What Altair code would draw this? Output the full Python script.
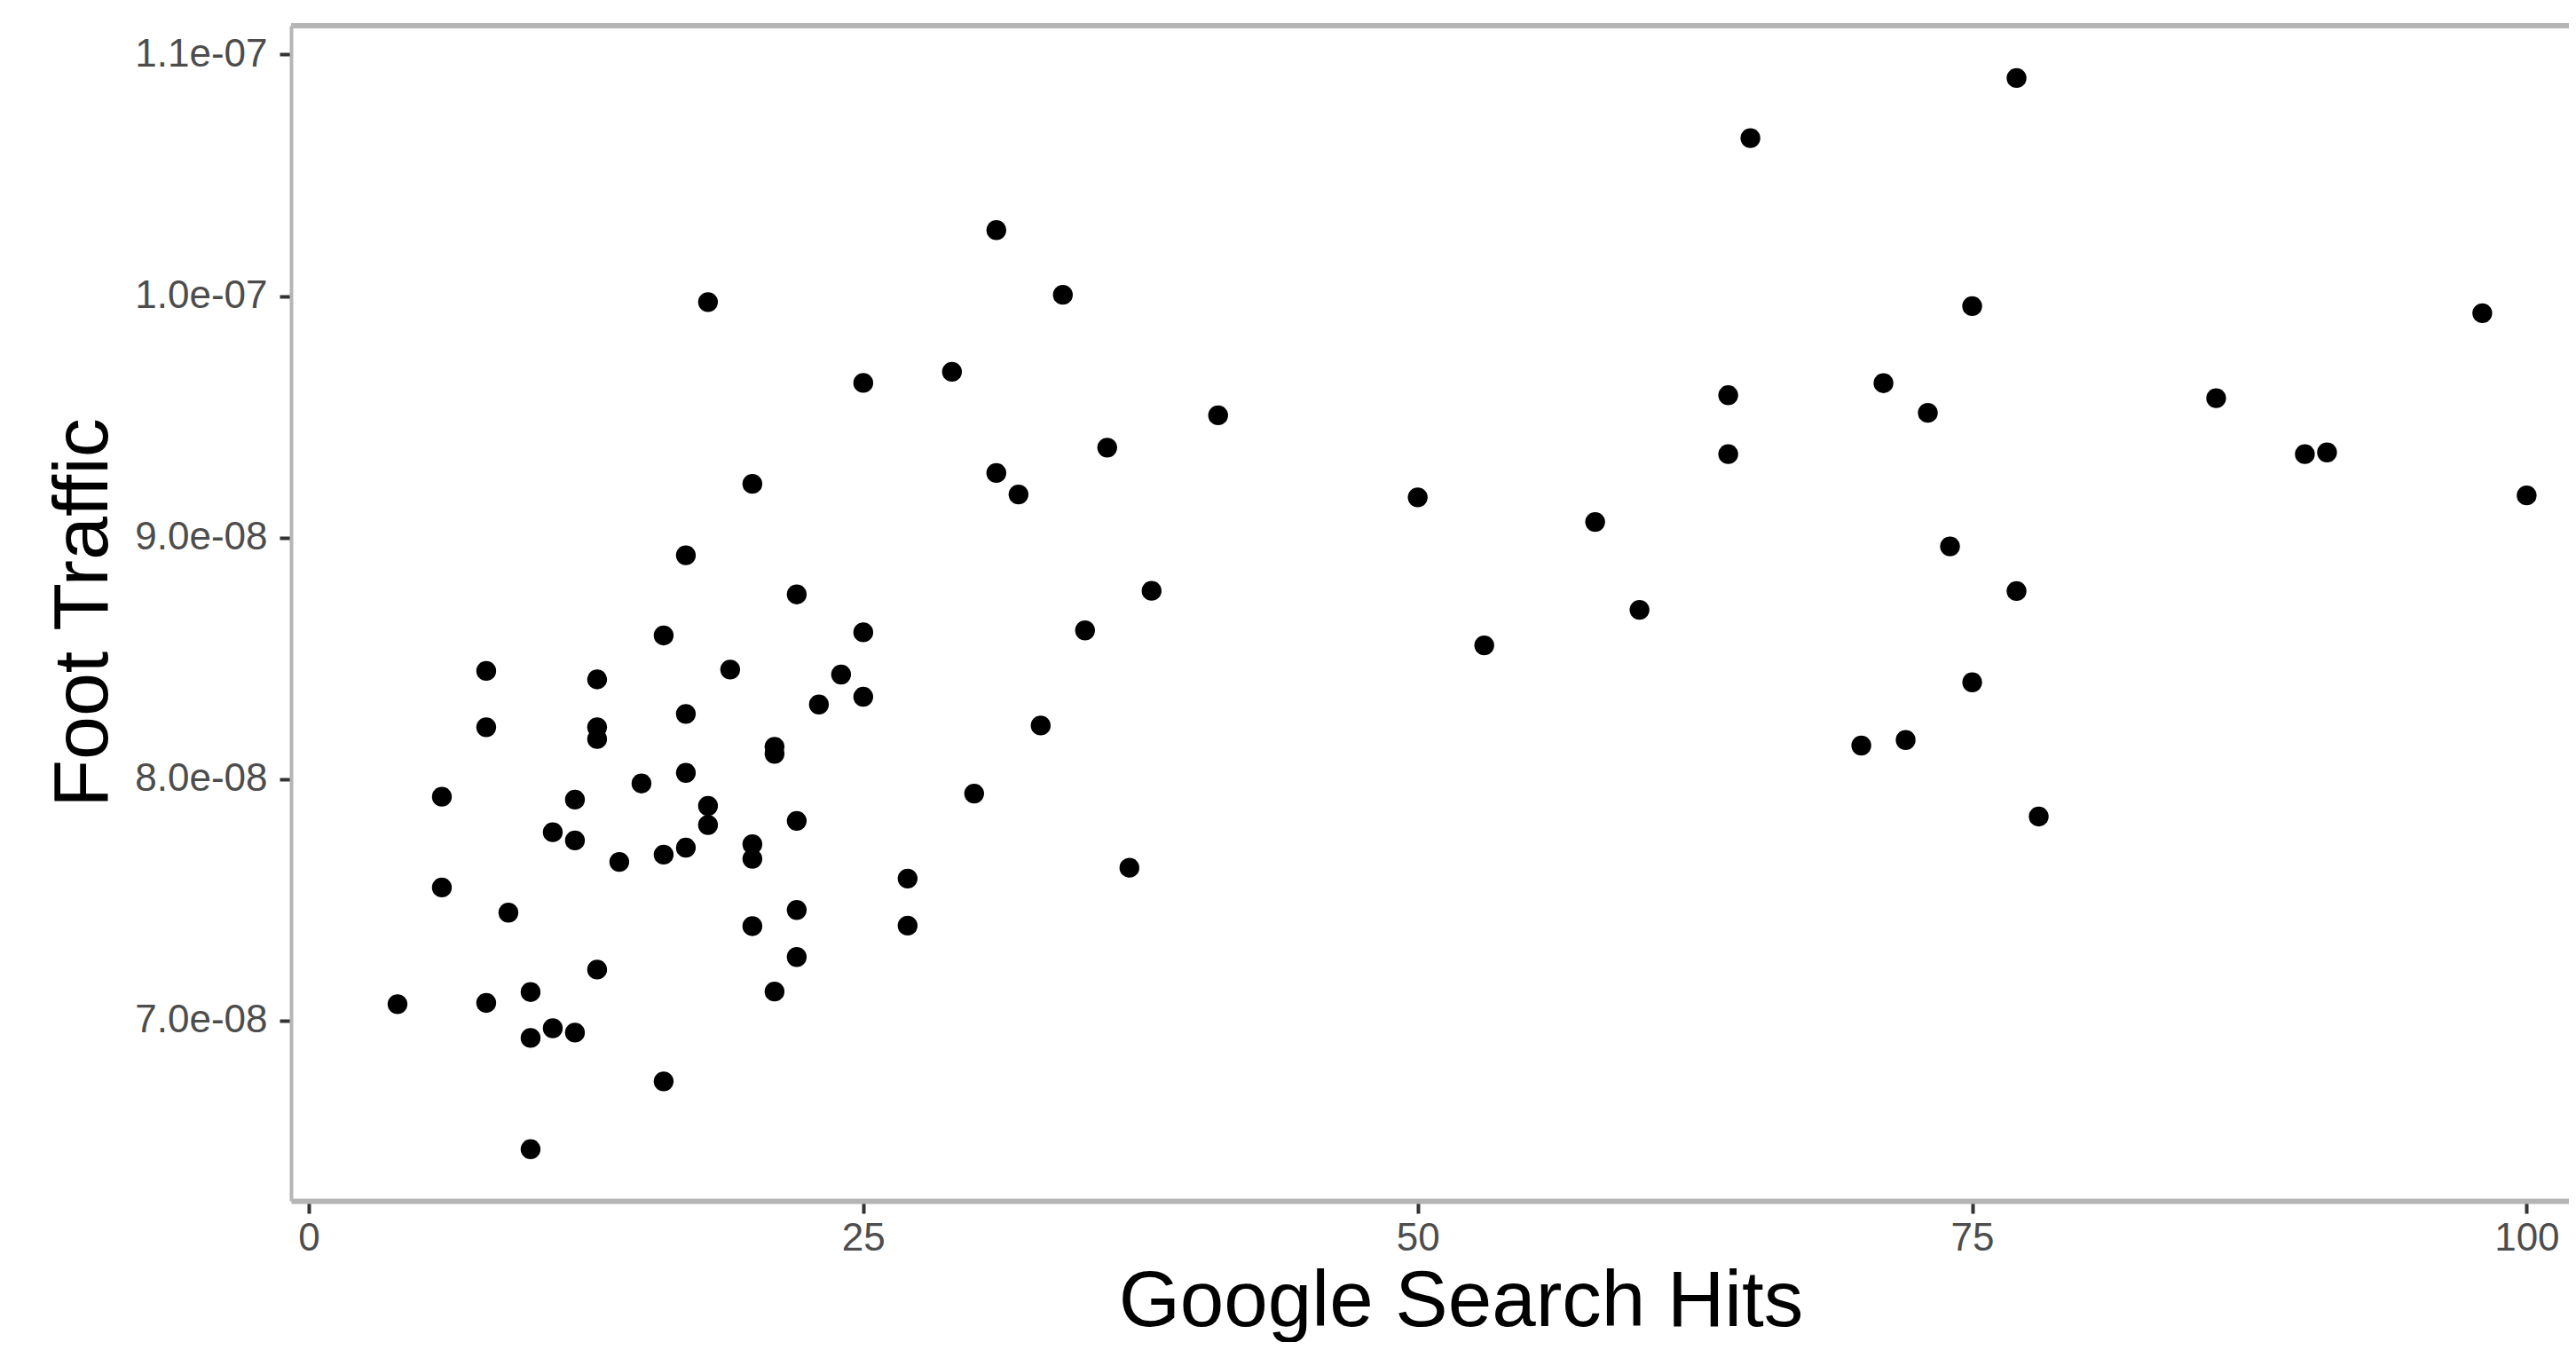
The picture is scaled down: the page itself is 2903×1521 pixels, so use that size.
import altair as alt
import pandas as pd

# Google search hits (x) and foot traffic (y)
hits = [
    18, 25, 20, 17, 22, 16, 25, 8, 13, 19, 24, 23, 25, 8, 13, 13, 17, 21, 21,
    6, 12, 15, 17, 18, 18, 22, 11, 12, 14, 16, 17, 20, 20, 27, 6, 9, 22, 20,
    27, 22, 13, 21, 4, 8, 10, 10, 11, 12, 16, 10,
    31, 34, 29, 41, 36, 31, 32, 50, 38, 35, 53, 33, 30, 37,
    77, 65, 75, 98, 64, 71, 73, 86, 64, 90, 91, 100, 58, 74, 77, 60, 75, 70,
    72, 78,
]
traffic = [
    9.975e-08, 9.640e-08, 9.222e-08, 8.926e-08, 8.764e-08, 8.594e-08, 8.607e-08,
    8.447e-08, 8.412e-08, 8.453e-08, 8.432e-08, 8.308e-08, 8.340e-08, 8.214e-08,
    8.214e-08, 8.165e-08, 8.269e-08, 8.133e-08, 8.104e-08, 7.926e-08, 7.914e-08,
    7.981e-08, 8.025e-08, 7.888e-08, 7.809e-08, 7.826e-08, 7.779e-08, 7.745e-08,
    7.656e-08, 7.686e-08, 7.715e-08, 7.729e-08, 7.669e-08, 7.587e-08, 7.550e-08,
    7.446e-08, 7.457e-08, 7.390e-08, 7.392e-08, 7.262e-08, 7.210e-08, 7.119e-08,
    7.067e-08, 7.072e-08, 7.117e-08, 6.927e-08, 6.967e-08, 6.949e-08, 6.747e-08,
    6.466e-08,
    1.0273e-07, 1.0005e-07, 9.686e-08, 9.506e-08, 9.372e-08, 9.267e-08, 9.178e-08,
    9.166e-08, 8.779e-08, 8.615e-08, 8.553e-08, 8.221e-08, 7.939e-08, 7.632e-08,
    1.0903e-07, 1.0654e-07, 9.958e-08, 9.929e-08, 9.589e-08, 9.639e-08, 9.516e-08,
    9.577e-08, 9.345e-08, 9.345e-08, 9.352e-08, 9.174e-08, 9.064e-08, 8.963e-08,
    8.778e-08, 8.700e-08, 8.400e-08, 8.138e-08, 8.161e-08, 7.844e-08,
]

x_ticks = [0, 25, 50, 75, 100]
y_ticks = [7e-08, 8e-08, 9e-08, 1e-07, 1.1e-07]
x_title = "Google Search Hits"
y_title = "Foot Traffic"

df = pd.DataFrame({"hits": hits, "traffic": traffic})

W = 2567
H = 1324
FONT = "Liberation Sans"
LINE = "#b5b5b5"

x_scale = alt.Scale(domain=[-0.8, 101.905], nice=False, zero=False)
y_scale = alt.Scale(domain=[6.252e-08, 1.111948e-07], nice=False, zero=False)

y_label_expr = (
    "datum.value >= 0.000000095 ? format(datum.value * 10000000, '.1f') + 'e-07' "
    ": format(datum.value * 100000000, '.1f') + 'e-08'"
)

points = alt.Chart(df).mark_circle(size=500, color="black", opacity=1).encode(
    x=alt.X(
        "hits:Q",
        scale=x_scale,
        axis=alt.Axis(
            values=x_ticks,
            format="d",
            grid=False,
            title=x_title,
            titleFontSize=89,
            titleFontWeight="normal",
            titleColor="black",
            titleFont=FONT,
            titleX=1318,
            titleY=140,
            titleAlign="center",
            titleBaseline="alphabetic",
            labelFont=FONT,
            labelFontSize=44,
            labelColor="#4d4d4d",
            labelPadding=6,
            labelFlush=False,
            tickSize=14,
            tickWidth=4,
            tickColor="#333333",
            domainColor=LINE,
            domainWidth=6,
        ),
    ),
    y=alt.Y(
        "traffic:Q",
        scale=y_scale,
        axis=alt.Axis(
            values=y_ticks,
            labelExpr=y_label_expr,
            grid=False,
            title=y_title,
            titleFontSize=88,
            titleFontWeight="normal",
            titleColor="black",
            titleFont=FONT,
            titleAngle=270,
            titleX=-208,
            titleY=661,
            titleAlign="center",
            titleBaseline="alphabetic",
            labelFont=FONT,
            labelFontSize=44,
            labelColor="#4d4d4d",
            labelPadding=14,
            tickSize=13,
            tickWidth=4,
            tickColor="#333333",
            domainColor=LINE,
            domainWidth=4,
        ),
    ),
)

top_border = alt.Chart(pd.DataFrame({"edge": [0]})).mark_rule(
    color=LINE, strokeWidth=6
).encode(y=alt.value(0))

chart = (
    alt.layer(points, top_border)
    .properties(
        width=W,
        height=H,
        autosize=alt.AutoSizeParams(type="none"),
        padding={"left": 320, "top": 21, "right": 0, "bottom": 159},
    )
    .configure_view(stroke="transparent")
    .configure(background="white")
)

chart.save("out.html", embed_options={"renderer": "svg", "actions": False})
